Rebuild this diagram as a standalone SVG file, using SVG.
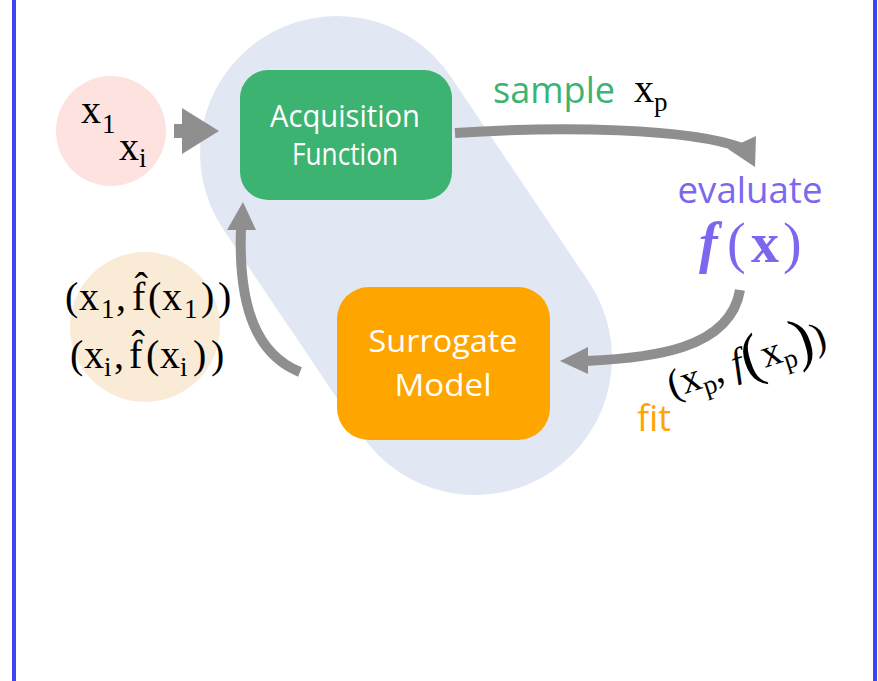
<svg xmlns="http://www.w3.org/2000/svg" width="878" height="681" viewBox="0 0 878 681">
<style>
.math{font-family:"Liberation Serif","DejaVu Serif",serif;fill:#000;font-size:40px}
.sub{font-size:27px}
.lbl{font-family:"Open Sans","Noto Sans",sans-serif}
.box{font-family:"Open Sans","Noto Sans",sans-serif;fill:#fff;font-size:31px;text-anchor:middle}
.conn{fill:none;stroke:#8f8f8f;stroke-width:10}
.head{fill:#8f8f8f}
</style>
<rect x="0" y="0" width="878" height="681" fill="#fff"/>
<line x1="14" y1="0" x2="14" y2="681" stroke="#3b46f0" stroke-width="4"/>
<line x1="875" y1="0" x2="875" y2="681" stroke="#3b46f0" stroke-width="4"/>
<g id="capsule">
<line x1="337" y1="153" x2="475" y2="358" stroke="#e1e7f3" stroke-width="274" stroke-linecap="round"/>
</g>
<g id="inputs">
<circle cx="111" cy="131" r="55" fill="#fde2e0"/>
<text class="math" x="81" y="123">x</text><text class="math sub" x="102" y="133">1</text>
<text class="math" x="119" y="160">x</text><text class="math sub" x="139" y="167">i</text>
</g>
<g id="history">
<circle cx="145" cy="327" r="75" fill="#faebd7"/>
<text class="math" y="310"><tspan x="65">(</tspan><tspan x="79">x</tspan><tspan class="sub" x="101" y="318">1</tspan><tspan x="116" y="310">,</tspan><tspan x="132">f̂</tspan><tspan x="148">(</tspan><tspan x="162">x</tspan><tspan class="sub" x="184" y="318">1</tspan><tspan x="201" y="310">)</tspan><tspan x="218">)</tspan></text>
<text class="math" y="368"><tspan x="70">(</tspan><tspan x="84">x</tspan><tspan class="sub" x="104" y="376">i</tspan><tspan x="114" y="368">,</tspan><tspan x="129">f̂</tspan><tspan x="146">(</tspan><tspan x="160">x</tspan><tspan class="sub" x="180" y="376">i</tspan><tspan x="193" y="368">)</tspan><tspan x="211">)</tspan></text>
</g>
<g id="acquisition">
<rect x="240" y="70" width="212" height="130" rx="28" fill="#3cb371"/>
<text class="box" x="345" y="127" textLength="150" lengthAdjust="spacingAndGlyphs">Acquisition</text>
<text class="box" x="345" y="165" textLength="106" lengthAdjust="spacingAndGlyphs">Function</text>
</g>
<g id="surrogate">
<rect x="337" y="287" width="213" height="153" rx="32" fill="#ffa500"/>
<text class="box" x="443" y="352" textLength="149" lengthAdjust="spacingAndGlyphs">Surrogate</text>
<text class="box" x="443" y="396" textLength="97" lengthAdjust="spacingAndGlyphs">Model</text>
</g>
<g id="evaluate">
<text class="lbl" x="750" y="203" font-size="37" fill="#7b68ee" text-anchor="middle" textLength="145" lengthAdjust="spacingAndGlyphs">evaluate</text>
<text y="262" font-size="56" fill="#7b68ee" font-family="Liberation Serif,serif"><tspan x="699" font-style="italic" font-weight="bold">f</tspan><tspan x="727">(</tspan><tspan x="751" font-weight="bold">x</tspan><tspan x="783">)</tspan></text>
</g>
<g id="connectors">
<polygon class="head" points="174,124 182,124 182,108 219,131 182,154 182,138 174,138"/>
<path class="conn" d="M455,133 C560,126 690,128 742,148"/>
<polygon class="head" points="728,149 756,136 755,167"/>
<path class="conn" d="M740,290 C730,350 650,358 586,361"/>
<polygon class="head" points="560,361 588,347 588,374"/>
<path class="conn" d="M300,372 C258,355 238,310 241,228"/>
<polygon class="head" points="243,202 227,230 256,230"/>
</g>
<g id="labels">
<text class="lbl" x="493" y="103" font-size="36" fill="#3cb371" textLength="122" lengthAdjust="spacingAndGlyphs">sample</text>
<text class="math" x="634" y="102">x</text><text class="math sub" x="654" y="111">p</text>
<text class="lbl" x="637" y="431" font-size="36" fill="#ffa500">fit</text>
<text class="math" font-size="43" transform="translate(672,398) rotate(-18)">(x<tspan class="sub" dy="8">p</tspan><tspan dy="-8">, </tspan><tspan font-style="italic">f</tspan><tspan font-size="60" dy="4">(</tspan><tspan dy="-4">x</tspan><tspan class="sub" dy="8">p</tspan><tspan font-size="60" dy="-4">)</tspan><tspan dy="-4">)</tspan></text>
</g>
</svg>
